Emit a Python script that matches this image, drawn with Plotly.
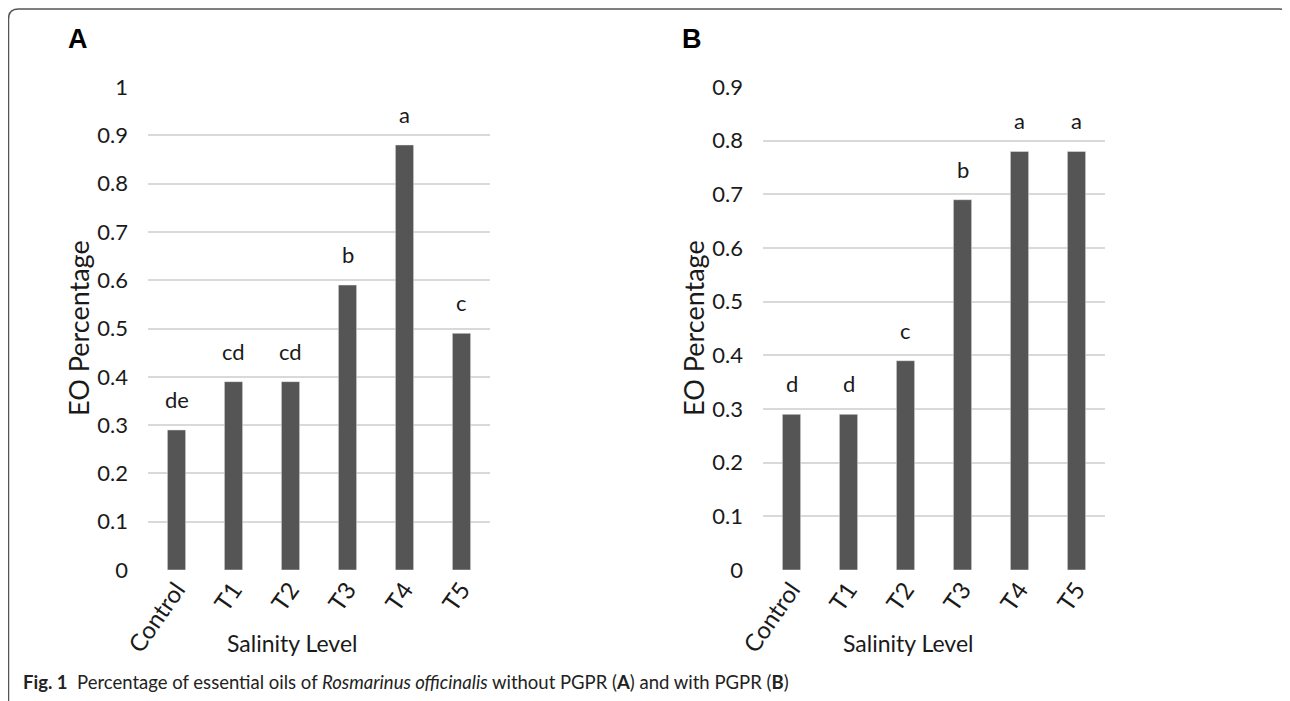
import plotly.graph_objects as go

categories = ["Control", "T1", "T2", "T3", "T4", "T5"]
values_a = [0.29, 0.39, 0.39, 0.59, 0.88, 0.49]
letters_a = ["de", "cd", "cd", "b", "a", "c"]
values_b = [0.29, 0.29, 0.39, 0.69, 0.78, 0.78]
letters_b = ["d", "d", "c", "b", "a", "a"]
yticks_a = [0, 0.1, 0.2, 0.3, 0.4, 0.5, 0.6, 0.7, 0.8, 0.9, 1]
yticks_b = [0, 0.1, 0.2, 0.3, 0.4, 0.5, 0.6, 0.7, 0.8, 0.9]

# page body has an 8px margin: figure drawn from (8, 8)
OFF = 8
W, H = 1290 - OFF, 701 - OFF
def px(x):
    return (x - OFF) / W
def py(y):
    return 1 - (y - OFF) / H

FONT = "Lato"
BAR = "#555555"
GRID = "#d9d9d9"
TXT = "#1a1a1a"

fig = go.Figure()
fig.add_trace(go.Bar(x=categories, y=values_a, marker_color=BAR, width=0.32,
                     xaxis="x", yaxis="y", showlegend=False))
fig.add_trace(go.Bar(x=categories, y=values_b, marker_color=BAR, width=0.32,
                     xaxis="x2", yaxis="y2", showlegend=False))

ydom = [py(570), py(87)]
common_x = dict(tickangle=-55, tickfont=dict(family=FONT, size=24, color=TXT),
                showline=False, showgrid=False, zeroline=False, ticks="",
                automargin=False)
common_y = dict(tickfont=dict(family=FONT, size=22, color=TXT),
                showgrid=True, gridcolor=GRID, gridwidth=2, zeroline=False,
                showline=False, ticks="", ticklabelstandoff=19, automargin=False)

fig.update_layout(
    width=W, height=H, autosize=False,
    margin=dict(l=0, r=0, t=0, b=0, pad=0, autoexpand=False),
    paper_bgcolor="white", plot_bgcolor="white",
    xaxis=dict(domain=[px(148), px(490)], anchor="y", **common_x),
    yaxis=dict(domain=ydom, anchor="x", range=[0, 1], tickvals=yticks_a,
               ticktext=[f"{v:g}" for v in yticks_a], **common_y),
    xaxis2=dict(domain=[px(763), px(1105)], anchor="y2", **common_x),
    yaxis2=dict(domain=ydom, anchor="x2", range=[0, 0.9], tickvals=yticks_b,
                ticktext=[f"{v:g}" for v in yticks_b], **common_y),
)

ann = []
for c, v, l in zip(categories, values_a, letters_a):
    ann.append(dict(x=c, y=v, xref="x", yref="y", text=l, showarrow=False,
                    yanchor="bottom", yshift=15,
                    font=dict(family=FONT, size=22, color=TXT)))
for c, v, l in zip(categories, values_b, letters_b):
    ann.append(dict(x=c, y=v, xref="x2", yref="y2", text=l, showarrow=False,
                    yanchor="bottom", yshift=15,
                    font=dict(family=FONT, size=22, color=TXT)))

# axis titles
for xc, yc in [(78, 328), (693, 328)]:
    ann.append(dict(x=px(xc), y=py(yc), xref="paper", yref="paper", text="EO Percentage",
                    textangle=-90, showarrow=False, xanchor="center", yanchor="middle",
                    font=dict(family=FONT, size=27, color=TXT)))
for xc, yc in [(292, 643), (908, 643)]:
    ann.append(dict(x=px(xc), y=py(yc), xref="paper", yref="paper", text="Salinity Level",
                    showarrow=False, xanchor="center", yanchor="middle",
                    font=dict(family=FONT, size=23, color=TXT)))
# panel letters
for xc, t in [(78, "A"), (692, "B")]:
    ann.append(dict(x=px(xc), y=py(39), xref="paper", yref="paper", text=f"<b>{t}</b>",
                    showarrow=False, xanchor="center", yanchor="middle",
                    font=dict(family="Liberation Sans", size=27, color="black")))
# caption
ann.append(dict(x=px(21), y=py(682), xref="paper", yref="paper",
                text="<b>Fig. 1</b>  Percentage of essential oils of <i>Rosmarinus officinalis</i> "
                     "without PGPR (<b>A</b>) and with PGPR (<b>B</b>)",
                showarrow=False, xanchor="left", yanchor="middle",
                font=dict(family=FONT, size=18.5, color="#222222")))
fig.update_layout(annotations=ann)

# rounded frame
x0, y0, x1, y1, r = 8.5, 9, 1289, 720, 10
path = (f"M {px(x0)},{py(y1)} L {px(x0)},{py(y0 + r)} "
        f"Q {px(x0)},{py(y0)} {px(x0 + r)},{py(y0)} "
        f"L {px(x1 - r)},{py(y0)} Q {px(x1)},{py(y0)} {px(x1)},{py(y0 + r)} "
        f"L {px(x1)},{py(y1)}")
fig.add_shape(type="path", path=path, xref="paper", yref="paper",
              line=dict(color="#555555", width=1.5))

fig.write_html("out.html")
